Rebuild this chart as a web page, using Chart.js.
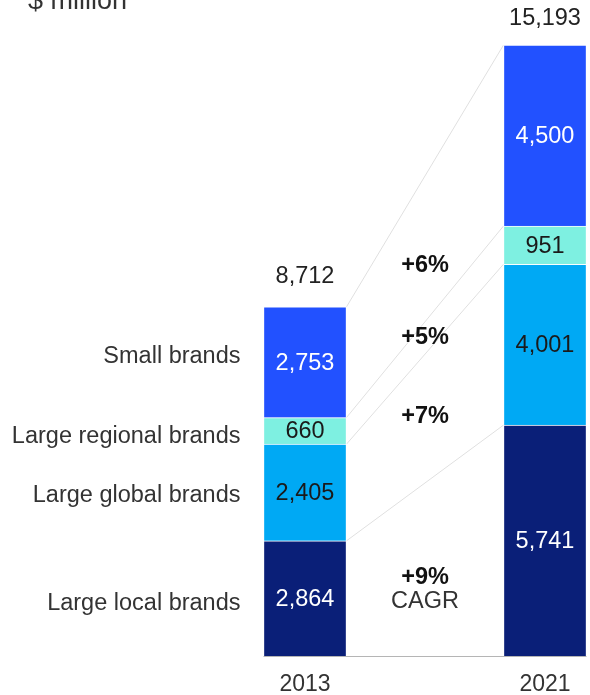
<!DOCTYPE html>
<html>
<head>
<meta charset="utf-8">
<script src="https://cdn.jsdelivr.net/npm/chart.js@4.4.0/dist/chart.umd.min.js"></script>
<style>
  body { margin: 0; background: #fff; }
  #wrap { width: 590px; height: 695px; }
</style>
</head>
<body>
<div id="wrap"><canvas id="brandsChart" width="590" height="695"></canvas></div>
<script>
// market size by brand type, $ million
const years = ['2013', '2021'];
const segments = ['Large local brands', 'Large global brands', 'Large regional brands', 'Small brands'];
const largeLocal = [2864, 5741];
const largeGlobal = [2405, 4001];
const largeRegional = [660, 951];
const smallBrands = [2753, 4500];
const totals = [8712, 15193];
const cagr = ['+9%', '+7%', '+5%', '+6%'];

const colors = ['#0a1f78', '#00a9f4', '#7ef0e1', '#2251ff'];
const textColors = ['#ffffff', '#1a1a1a', '#1a1a1a', '#ffffff'];
const cagrNudge = [8, -2, 0, 17];
const nameNudge = [4, 2, 5, -7];
const FONT = '"Liberation Sans", Arial, sans-serif';
const SIZE = 23.5;

function fmt(v) {
  return v.toLocaleString('en-US');
}

const overlay = {
  id: 'overlay',
  beforeDatasetsDraw(chart) {
    const ctx = chart.ctx;
    // thin lines joining the top of each segment across the two years
    ctx.save();
    ctx.strokeStyle = '#e0e0e0';
    ctx.lineWidth = 1;
    chart.data.datasets.forEach((ds, i) => {
      const bars = chart.getDatasetMeta(i).data;
      const a = bars[0], b = bars[1];
      ctx.beginPath();
      ctx.moveTo(a.x + a.width / 2, a.y);
      ctx.lineTo(b.x - b.width / 2, b.y);
      ctx.stroke();
    });
    ctx.restore();
  },
  afterDatasetsDraw(chart) {
    const ctx = chart.ctx;
    const y0 = chart.scales.y.getPixelForValue(0);
    ctx.save();

    // base line under both bars
    const first = chart.getDatasetMeta(0).data[0];
    const last = chart.getDatasetMeta(0).data[1];
    ctx.strokeStyle = '#b5b5b5';
    ctx.lineWidth = 1;
    ctx.beginPath();
    ctx.moveTo(first.x - first.width / 2, y0 + 0.5);
    ctx.lineTo(last.x + last.width / 2, y0 + 0.5);
    ctx.stroke();

    ctx.textBaseline = 'middle';
    ctx.font = SIZE + 'px ' + FONT;

    // values inside the segments
    ctx.textAlign = 'center';
    chart.data.datasets.forEach((ds, i) => {
      chart.getDatasetMeta(i).data.forEach((bar, j) => {
        ctx.fillStyle = textColors[i];
        ctx.fillText(fmt(ds.data[j]), bar.x, (bar.y + bar.base) / 2 + 1);
      });
    });

    // totals above the bars
    ctx.fillStyle = '#222';
    const tops = chart.getDatasetMeta(chart.data.datasets.length - 1).data;
    tops.forEach((bar, j) => {
      ctx.fillText(fmt(totals[j]), bar.x, bar.y - (j === 0 ? 30 : 26));
    });

    // segment names left of the 2013 bar
    ctx.textAlign = 'right';
    ctx.fillStyle = '#333';
    chart.data.datasets.forEach((ds, i) => {
      const bar = chart.getDatasetMeta(i).data[0];
      ctx.fillText(ds.label, bar.x - bar.width / 2 - 23, (bar.y + bar.base) / 2 + 1 + nameNudge[i]);
    });

    // growth rates between the bars
    ctx.textAlign = 'center';
    const midX = (first.x + first.width / 2 + last.x - last.width / 2) / 2;
    chart.data.datasets.forEach((ds, i) => {
      const meta = chart.getDatasetMeta(i).data;
      const a = meta[0], b = meta[1];
      const y = ((a.y + a.base) / 2 + (b.y + b.base) / 2) / 2 + cagrNudge[i];
      ctx.font = 'bold ' + SIZE + 'px ' + FONT;
      ctx.fillStyle = '#111';
      ctx.fillText(cagr[i], midX, y);
      if (i === 0) {
        ctx.font = SIZE + 'px ' + FONT;
        ctx.fillStyle = '#333';
        ctx.fillText('CAGR', midX, y + 24);
      }
    });

    // unit title, partly above the top edge
    ctx.textAlign = 'left';
    ctx.textBaseline = 'alphabetic';
    ctx.font = '27px ' + FONT;
    ctx.fillStyle = '#333';
    ctx.fillText('$ million', 28, 9);

    ctx.restore();
  }
};

const series = [largeLocal, largeGlobal, largeRegional, smallBrands];

new Chart(document.getElementById('brandsChart'), {
  type: 'bar',
  data: {
    labels: years,
    datasets: series.map((vals, i) => ({
      label: segments[i],
      data: vals,
      backgroundColor: colors[i],
      borderColor: 'rgba(255,255,255,0.55)',
      borderWidth: 1,
      barThickness: 83,
      clip: false
    }))
  },
  options: {
    responsive: false,
    animation: false,
    layout: { padding: { left: 305, right: 45, top: 45, bottom: 0 } },
    plugins: {
      legend: { display: false },
      tooltip: { enabled: false }
    },
    scales: {
      x: {
        stacked: true,
        offset: false,
        grid: { display: false, drawTicks: false },
        border: { display: false },
        ticks: { color: '#333', font: { size: 23, family: FONT }, padding: 15 },
        afterFit(scale) { scale.height = 39; }
      },
      y: {
        stacked: true,
        display: false,
        min: 0,
        max: 15193
      }
    }
  },
  plugins: [overlay]
});
</script>
</body>
</html>
